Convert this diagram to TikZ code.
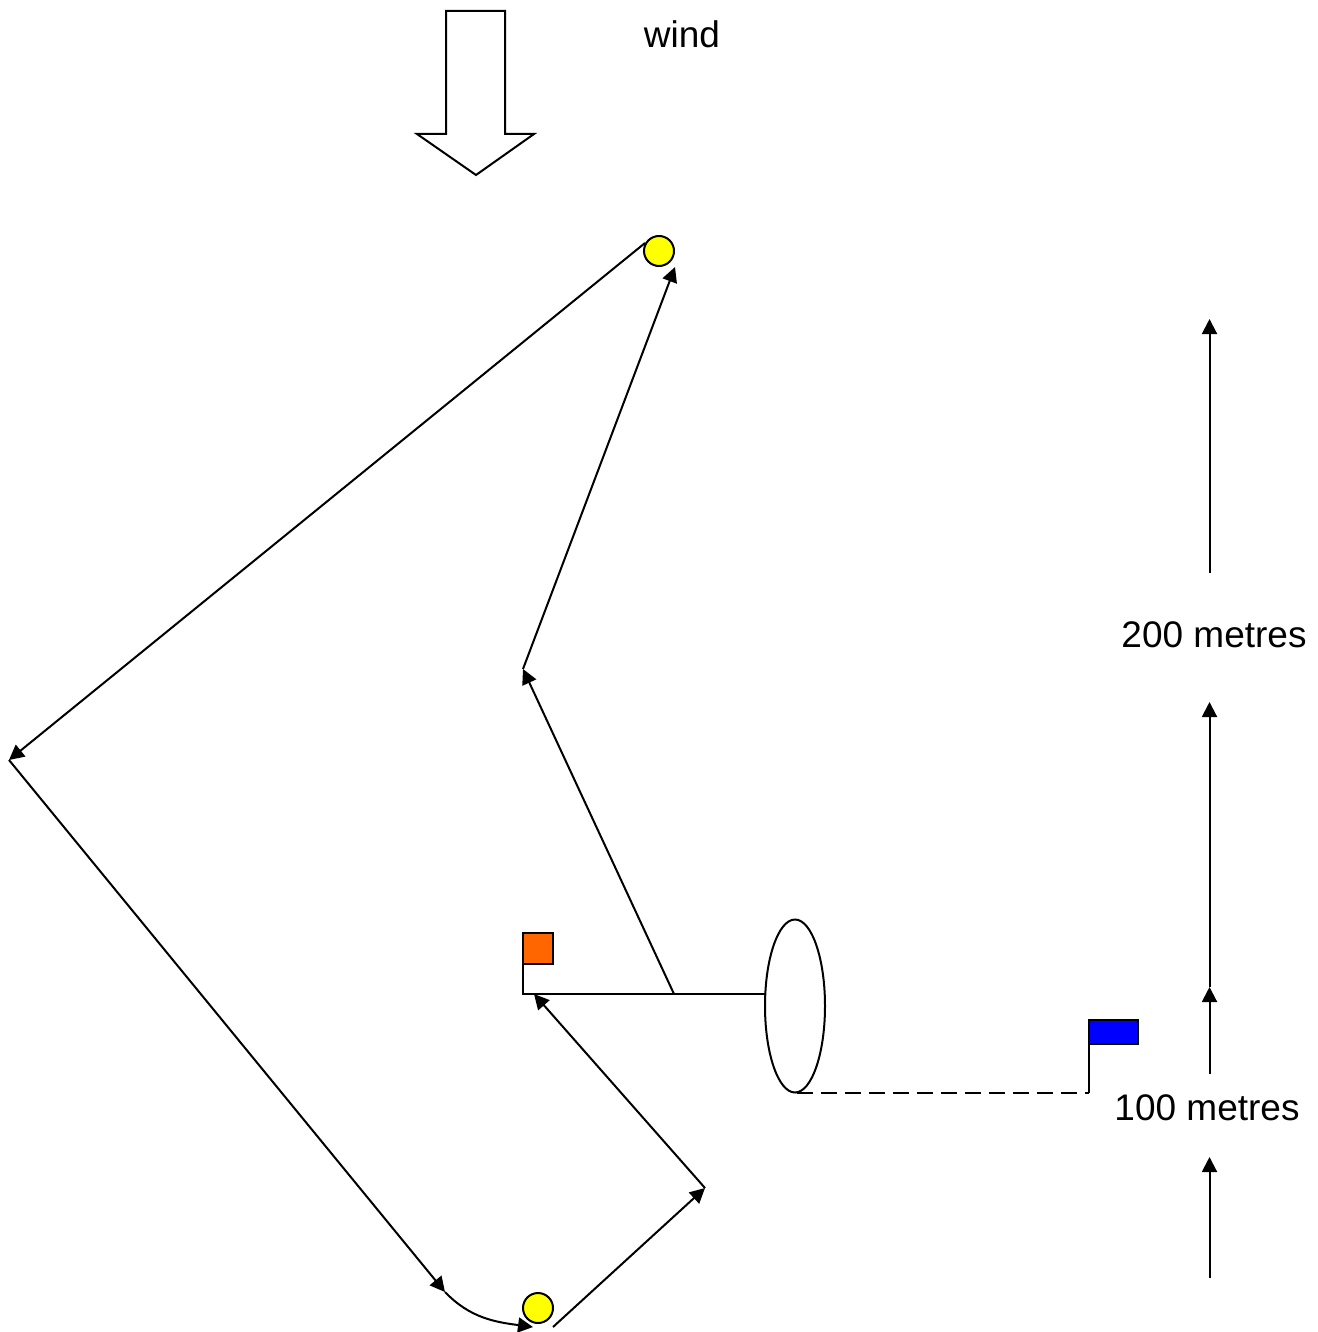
\documentclass[tikz,border=0pt]{standalone}
\usepackage{fontspec}
\setmainfont{Liberation Sans}
\usetikzlibrary{arrows.meta,shapes.geometric}
\definecolor{flagorange}{RGB}{255,102,0}
\definecolor{markyellow}{RGB}{255,255,0}
\definecolor{flagblue}{RGB}{0,0,255}
\tikzset{
  ln/.style={line width=2pt,black},
  arr/.style={ln,-{Triangle[length=15pt,width=15pt]}},
  label/.style={inner sep=0pt,font=\fontsize{37}{40}\selectfont,text=black},
  marker/.style={circle,draw=black,line width=2pt,fill=markyellow,minimum size=30pt,inner sep=0pt,outer sep=0pt},
  flag/.style={draw=black,line width=2pt,rectangle,inner sep=0pt,outer sep=0pt,anchor=north west}
}
\begin{document}
\begin{tikzpicture}[x=1pt,y=-1pt]
\useasboundingbox (0,0) rectangle (1317,1332);
% wind
\draw[ln,line join=miter] (446,11) -- (505,11) -- (505,134) -- (534,134) -- (476,175) -- (417,134) -- (446,134) -- cycle;
\node[label] (wind) at (682,34.5) {wind};
% marks
\node[marker] (top) at (659,251) {};
\node[marker] (bot) at (538,1308) {};
\node[flag,fill=flagorange,minimum width=30pt,minimum height=31pt] (oflag) at (523,933) {};
\node[flag,fill=flagblue,minimum width=49pt,minimum height=24pt] (bflag) at (1089,1020) {};
\node[ellipse,draw=black,line width=2pt,minimum width=60pt,minimum height=173pt,inner sep=0pt,outer sep=0pt] (gate) at (795,1006) {};
% course points
\coordinate (a) at (645,243);
\coordinate (w) at (9,760);
\coordinate (c) at (445,1292);
\coordinate (d) at (533,1327);
\coordinate (e) at (553,1327);
\coordinate (f) at (705,1188);
\coordinate (g) at (534,994);
\coordinate (h) at (674,994);
\coordinate (i) at (523,669);
\coordinate (j) at (675,267);
\coordinate (k) at (523,994);
\coordinate (l) at (766,994);
\coordinate (m) at (797,1093);
\coordinate (n) at (1089,1093);
\draw[arr] (a) -- (w);
\draw[arr] (w) -- (c);
\draw[arr] (c) .. controls (470,1318) and (495,1322) .. (d);
\draw[arr] (e) -- (f);
\draw[arr] (f) -- (g);
\draw[arr] (h) -- (i);
\draw[arr] (i) -- (j);
\draw[ln] (oflag.south west) -- (k) -- (l);
\draw[ln,dash pattern=on 16pt off 8pt] (m) -- (n);
\draw[ln] (n) -- (bflag.south west);
% dimensions
\node[label] (d200) at (1214,635) {200 metres};
\node[label] (d100) at (1207,1108) {100 metres};
\coordinate (p1) at (1209.5,1278);
\coordinate (p2) at (1209.5,1157);
\coordinate (p3) at (1209.5,1074);
\coordinate (p4) at (1209.5,987);
\coordinate (p5) at (1209.5,702);
\coordinate (p6) at (1209.5,573);
\coordinate (p7) at (1209.5,319);
\draw[arr] (p1) -- (p2);
\draw[arr] (p3) -- (p4);
\draw[arr] (p4) -- (p5);
\draw[arr] (p6) -- (p7);
\end{tikzpicture}
\end{document}
